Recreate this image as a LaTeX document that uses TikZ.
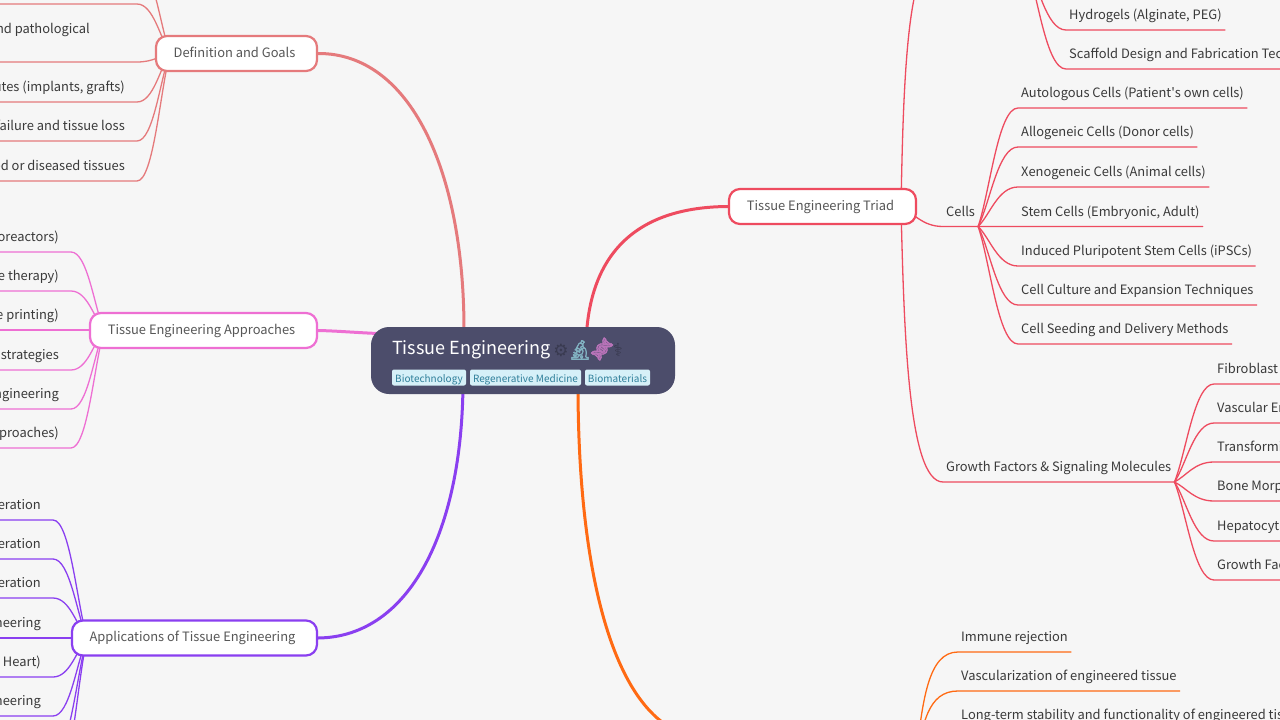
\documentclass[tikz,border=0pt]{standalone}
\usepackage{fontspec}
\setmainfont{Noto Sans CJK SC}
\newfontfamily\plainfont{Noto Sans CJK SC}
\newfontfamily\emojifont[FakeBold=2.5]{Noto Emoji}
\newfontfamily\symbolfont{DejaVu Sans}
\usetikzlibrary{backgrounds,calc}

\definecolor{pagebg}{HTML}{F6F6F6}
\definecolor{rootbg}{HTML}{4C4D6B}
\definecolor{tagbg}{HTML}{D6F0F8}
\definecolor{tagink}{HTML}{2F7F9A}
\definecolor{ink}{HTML}{3A3A3A}
\definecolor{goalcol}{HTML}{E57A7C}
\definecolor{approachcol}{HTML}{EE6FD3}
\definecolor{applycol}{HTML}{8A3FF0}
\definecolor{triadcol}{HTML}{EE4B5F}
\definecolor{hurdlecol}{HTML}{FF6A13}

\tikzset{
  leafr/.style={anchor=south west,inner xsep=3pt,inner ysep=7.2pt,text height=11pt,text depth=3pt,
    text=ink,font=\fontsize{12.9}{16}\selectfont},
  leafl/.style={leafr,anchor=south east,inner xsep=12pt},
  branch/.style={draw,fill=white,line width=2.2pt,rounded corners=11pt,minimum height=35pt,
    text height=11pt,text depth=4pt,inner ysep=0pt,execute at end node=\hspace{4pt},
    text=ink!85,font=\fontsize{12.9}{16}\selectfont},
  tagbox/.style={fill=tagbg,rounded corners=2pt,minimum height=16pt,inner sep=0pt,text=tagink,
    text height=9pt,text depth=0pt,font=\fontsize{10}{12}\selectfont},
  curve/.style={line width=1.3pt,line cap=round},
  trunk/.style={line width=3pt}
}

% hub to leaf: a bent stem, then the rule under the text
\newcommand{\twig}[3]{\draw let \p1=(#1),\p2=(#2) in (#1)
  .. controls ({.7*\x1+.3*\x2},{.7*\y1+.3*\y2}) and ({.5*\x1+.5*\x2},\y2) .. (#2) -- (#3);}

\begin{document}
\begin{tikzpicture}[x=1pt,y=-1pt]
  \useasboundingbox (0,0) rectangle (1280,720);

  \node (root) [fill=rootbg,rounded corners=18pt,minimum width=304pt,minimum height=67pt] at (523,360.5) {};
  \node (title) [anchor=base west,inner sep=0pt,text=white,font=\fontsize{18}{22}\selectfont] at (392,354) {Tissue Engineering};
  \node (gear) [inner sep=0pt,text=black!25!rootbg,font=\symbolfont\fontsize{17}{20}\selectfont] at (561,350) {⚙};
  \node (scope) [inner sep=0pt,text=tagink!60!white,font=\emojifont\fontsize{19}{22}\selectfont] at (580,350) {🔬};
  \node (dna) [inner sep=0pt,rotate=-40,text=violet!55!white,font=\emojifont\fontsize{20}{24}\selectfont] at (602,349) {🧬};
  \node (staff) [inner sep=0pt,text=black!25!rootbg,font=\symbolfont\fontsize{18}{22}\selectfont] at (618,350) {⚕};
  \node (tag1) [tagbox,minimum width=74pt] at (429,377.5) {Biotechnology};
  \node (tag2) [tagbox,minimum width=111pt] at (525.5,377.5) {Regenerative Medicine};
  \node (tag3) [tagbox,minimum width=65pt] at (617.5,377.5) {Biomaterials};

  \node (goals) [branch,draw=goalcol,minimum width=161pt] at (236.5,53.5) {Definition and Goals};
  \node (approach) [branch,draw=approachcol,minimum width=227pt] at (203.5,330.5) {Tissue Engineering Approaches};
  \node (apply) [branch,draw=applycol,minimum width=245pt] at (194.5,638) {Applications of Tissue Engineering};
  \node (triad) [branch,draw=triadcol,minimum width=187pt] at (822.5,206.5) {Tissue Engineering Triad};

  \coordinate (goalhub) at (170,53);
  \coordinate (approachhub) at (104,330);
  \coordinate (applyhub) at (87,638);
  \coordinate (triadhub) at (901,207);
  \coordinate (hurdlehub) at (915,770);
  \coordinate (hurdle) at (708,738);

  \node (g1) [leafl,minimum width=145pt] at (137,4) {};
  \node (g2) [leafl,inner xsep=47pt,inner ysep=25.2pt] at (137,62) {nd pathological};
  \node (g3) [leafl] at (137,102) {utes (implants, grafts)};
  \node (g4) [leafl] at (137,141) {failure and tissue loss};
  \node (g5) [leafl] at (137,181) {ed or diseased tissues};
  \node (g0) [leafl,minimum width=145pt] at (137,-35) {};

  \node (a1) [leafl] at (71,252) {oreactors)};
  \node (a2) [leafl] at (71,291) {e therapy)};
  \node (a3) [leafl] at (71,330) {e printing)};
  \node (a4) [leafl] at (71,370) {strategies};
  \node (a5) [leafl] at (71,409) {ngineering};
  \node (a6) [leafl] at (71,448) {proaches)};

  \node (p1) [leafl] at (53,520) {eration};
  \node (p2) [leafl] at (53,559) {eration};
  \node (p3) [leafl] at (53,598) {eration};
  \node (p4) [leafl] at (53,638) {neering};
  \node (p5) [leafl] at (53,677) {Heart)};
  \node (p6) [leafl] at (53,716) {neering};
  \node (p7) [leafl,minimum width=60pt] at (53,755) {};
  \node (p8) [leafl,minimum width=60pt] at (53,794) {};

  \node (biom) [leafr,minimum width=90pt] at (935,-40) {};
  \node (hydro) [leafr] at (1066,30) {Hydrogels (Alginate, PEG)};
  \node (scaf) [leafr] at (1066,69) {Scaffold Design and Fabrication Tech};

  \node (cells) [leafr] at (943,226.5) {Cells};
  \node (c1) [leafr] at (1018,108) {Autologous Cells (Patient{\plainfont '}s own cells)};
  \node (c2) [leafr] at (1018,147) {Allogeneic Cells (Donor cells)};
  \node (c3) [leafr] at (1018,187) {Xenogeneic Cells (Animal cells)};
  \node (c4) [leafr] at (1018,226.5) {Stem Cells (Embryonic, Adult)};
  \node (c5) [leafr] at (1018,266) {Induced Pluripotent Stem Cells (iPSCs)};
  \node (c6) [leafr] at (1018,305) {Cell Culture and Expansion Techniques};
  \node (c7) [leafr] at (1018,344) {Cell Seeding and Delivery Methods};

  \node (grow) [leafr] at (943,482) {Growth Factors \& Signaling Molecules};
  \node (f1) [leafr,execute at end node=\hspace{40pt}] at (1214,384) {Fibroblast};
  \node (f2) [leafr,execute at end node=\hspace{40pt}] at (1214,423) {Vascular En};
  \node (f3) [leafr,execute at end node=\hspace{40pt}] at (1214,462) {Transformi};
  \node (f4) [leafr,execute at end node=\hspace{40pt}] at (1214,501) {Bone Morp};
  \node (f5) [leafr,execute at end node=\hspace{40pt}] at (1214,541) {Hepatocyt};
  \node (f6) [leafr,execute at end node=\hspace{40pt}] at (1214,580) {Growth Fac};

  \node (o1) [leafr] at (958,652) {Immune rejection};
  \node (o2) [leafr] at (958,691) {Vascularization of engineered tissue};
  \node (o3) [leafr] at (958,730) {Long-term stability and functionality of engineered tis};

  \begin{scope}[on background layer]
    \fill[pagebg] (0,0) rectangle (1280,720);

    \begin{scope}[curve,draw=goalcol]
      \foreach \to in {g0,g1,g2,g3,g4,g5}
        {\twig{goalhub}{\to.south east}{\to.south west}}
    \end{scope}
    \begin{scope}[curve,draw=approachcol]
      \foreach \to in {a1,a2,a3,a4,a5,a6}
        {\twig{approachhub}{\to.south east}{\to.south west}}
    \end{scope}
    \begin{scope}[curve,draw=applycol]
      \foreach \to in {p1,p2,p3,p4,p5,p6,p7,p8}
        {\twig{applyhub}{\to.south east}{\to.south west}}
    \end{scope}
    \begin{scope}[curve,draw=triadcol]
      \draw (triadhub) .. controls (903,100) and (906,-40) .. (biom.south west) -- (biom.south east);
      \draw (triadhub) .. controls (904,330) and (908,482) .. (grow.south west) -- (grow.south east);
      \twig{triadhub}{cells.south west}{cells.south east}
      \foreach \to in {hydro,scaf}
        {\twig{biom.south east}{\to.south west}{\to.south east}}
      \foreach \to in {c1,c2,c3,c4,c5,c6,c7}
        {\twig{cells.south east}{\to.south west}{\to.south east}}
      \foreach \to in {f1,f2,f3,f4,f5,f6}
        {\twig{grow.south east}{\to.south west}{\to.south east}}
    \end{scope}
    \begin{scope}[curve,draw=hurdlecol]
      \draw (hurdlehub) .. controls (922,700) and (928,652) .. (o1.south west) -- (o1.south east);
      \draw (hurdlehub) .. controls (922,723) and (928,691) .. (o2.south west) -- (o2.south east);
      \draw (hurdlehub) .. controls (922,750) and (928,730) .. (o3.south west) -- (o3.south east);
    \end{scope}

    \draw[trunk,goalcol] (goals.east) .. controls (410,53) and (464,170) .. (464,330);
    \draw[trunk,approachcol] (approach.east) .. controls (340,331) and (360,333) .. (390,334);
    \draw[trunk,applycol] (apply.east) .. controls (410,637) and (463,530) .. (463,380);
    \draw[trunk,triadcol] (triad.west) .. controls (640,207) and (588,250) .. (586,345);
    \draw[trunk,hurdlecol] (578,385) .. controls (578,590) and (620,738) .. (hurdle);
  \end{scope}

\end{tikzpicture}
\end{document}
